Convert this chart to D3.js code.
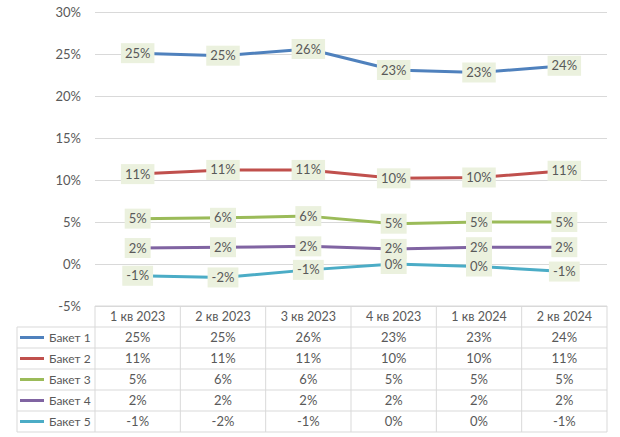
<!DOCTYPE html>
<html>
<head>
<meta charset="utf-8">
<script src="https://cdn.jsdelivr.net/npm/d3@7"></script>
<style>
  body { margin: 0; background: #fff; }
  text { font-family: Lato, "Open Sans", sans-serif; fill: #595959; }
</style>
</head>
<body>
<div id="chart"></div>
<script>
// quarters and series
var quarters = ["1 кв 2023", "2 кв 2023", "3 кв 2023", "4 кв 2023", "1 кв 2024", "2 кв 2024"];
var seriesNames = ["Бакет 1", "Бакет 2", "Бакет 3", "Бакет 4", "Бакет 5"];
var colors = ["#4F81BD", "#C0504D", "#9BBB59", "#8064A2", "#4BACC6"];

// values in percent
var baket1 = [25.1, 24.8, 25.6, 23.1, 22.8, 23.6];
var baket2 = [10.7, 11.2, 11.2, 10.2, 10.3, 11.1];
var baket3 = [5.4, 5.5, 5.7, 4.8, 5.0, 5.0];
var baket4 = [1.9, 2.0, 2.1, 1.8, 2.0, 2.0];
var baket5 = [-1.4, -1.6, -0.7, 0.0, -0.3, -0.9];

var yTicks = [-5, 0, 5, 10, 15, 20, 25, 30];

var width = 620,
    height = 437;

var series = [baket1, baket2, baket3, baket4, baket5].map(function(vals, i) {
  return {name: seriesNames[i], color: colors[i], values: vals};
});

var svg = d3.select("#chart")
  .append("svg")
  .attr("width", width)
  .attr("height", height);

var x = d3.scaleBand()
  .domain(quarters)
  .range([95, 607]);

var y = d3.scaleLinear()
  .domain([-5, 30])
  .range([306, 12]);

var fmt = function(v) { return Math.round(v) + "%"; };

// gridlines + y labels
var yAxis = svg.append("g")
  .attr("transform", "translate(95,0)")
  .call(d3.axisLeft(y)
    .tickValues(yTicks)
    .tickSize(-(607 - 95))
    .tickPadding(14)
    .tickFormat(function(d) { return d + "%"; }));
yAxis.select(".domain").remove();
yAxis.selectAll(".tick line").attr("stroke", "#D9D9D9");
yAxis.selectAll(".tick text")
  .style("font-size", "13px")
  .attr("fill", "#595959");

// lines
var line = d3.line()
  .x(function(d, i) { return x(quarters[i]) + x.bandwidth() / 2; })
  .y(function(d) { return y(d); });

svg.append("g").selectAll("path")
  .data(series)
  .enter().append("path")
  .attr("d", function(d) { return line(d.values); })
  .attr("fill", "none")
  .attr("stroke", function(d) { return d.color; })
  .attr("stroke-width", 3)
  .attr("stroke-linejoin", "round")
  .attr("stroke-linecap", "round");

// data labels
var labels = svg.append("g").selectAll("g")
  .data(series.flatMap(function(s) {
    return s.values.map(function(v, i) { return {q: quarters[i], v: v}; });
  }))
  .enter().append("g")
  .attr("transform", function(d) {
    return "translate(" + (x(d.q) + x.bandwidth() / 2) + "," + y(d.v) + ")";
  });

labels.append("text")
  .attr("text-anchor", "middle")
  .attr("dy", "0.35em")
  .style("font-size", "13px")
  .text(function(d) { return fmt(d.v); });

labels.each(function() {
  var g = d3.select(this);
  var bb = g.select("text").node().getBBox();
  g.insert("rect", "text")
    .attr("x", bb.x - 4)
    .attr("y", -10)
    .attr("width", bb.width + 8)
    .attr("height", 20)
    .attr("fill", "#EBF1DE");
});

// data table
var tableTop = 306,
    headerH = 21,
    rowH = 21,
    legendLeft = 17;

var row = d3.scaleBand()
  .domain(seriesNames)
  .range([tableTop + headerH, tableTop + headerH + rowH * seriesNames.length]);

var table = svg.append("g");
var border = "#D9D9D9";

// horizontal borders
table.append("line")
  .attr("x1", 95).attr("x2", 607)
  .attr("y1", tableTop).attr("y2", tableTop)
  .attr("stroke", border);
table.selectAll(".hline")
  .data(seriesNames)
  .enter().append("line")
  .attr("x1", legendLeft).attr("x2", 607)
  .attr("y1", function(d) { return row(d); })
  .attr("y2", function(d) { return row(d); })
  .attr("stroke", border);
table.append("line")
  .attr("x1", legendLeft).attr("x2", 607)
  .attr("y1", row.range()[1]).attr("y2", row.range()[1])
  .attr("stroke", border);

// vertical borders
table.selectAll(".vline")
  .data(quarters.concat(["end"]))
  .enter().append("line")
  .attr("x1", function(d) { return d == "end" ? 607 : x(d); })
  .attr("x2", function(d) { return d == "end" ? 607 : x(d); })
  .attr("y1", tableTop)
  .attr("y2", row.range()[1])
  .attr("stroke", border);
table.append("line")
  .attr("x1", legendLeft).attr("x2", legendLeft)
  .attr("y1", row.range()[0]).attr("y2", row.range()[1])
  .attr("stroke", border);

// header
table.selectAll(".head")
  .data(quarters)
  .enter().append("text")
  .attr("x", function(d) { return x(d) + x.bandwidth() / 2; })
  .attr("y", tableTop + headerH / 2)
  .attr("dy", "0.35em")
  .attr("text-anchor", "middle")
  .style("font-size", "12.5px")
  .text(function(d) { return d; });

// rows
var rows = table.selectAll(".row")
  .data(series)
  .enter().append("g")
  .attr("transform", function(d) { return "translate(0," + (row(d.name) + rowH / 2) + ")"; });

rows.append("line")
  .attr("x1", 20).attr("x2", 44)
  .attr("stroke", function(d) { return d.color; })
  .attr("stroke-width", 3);

rows.append("text")
  .attr("x", 49)
  .attr("dy", "0.35em")
  .style("font-size", "12px")
  .text(function(d) { return d.name; });

rows.selectAll(".cell")
  .data(function(d) { return d.values; })
  .enter().append("text")
  .attr("x", function(d, i) { return x(quarters[i]) + x.bandwidth() / 2; })
  .attr("dy", "0.35em")
  .attr("text-anchor", "middle")
  .style("font-size", "13px")
  .text(function(d) { return fmt(d); });
</script>
</body>
</html>
